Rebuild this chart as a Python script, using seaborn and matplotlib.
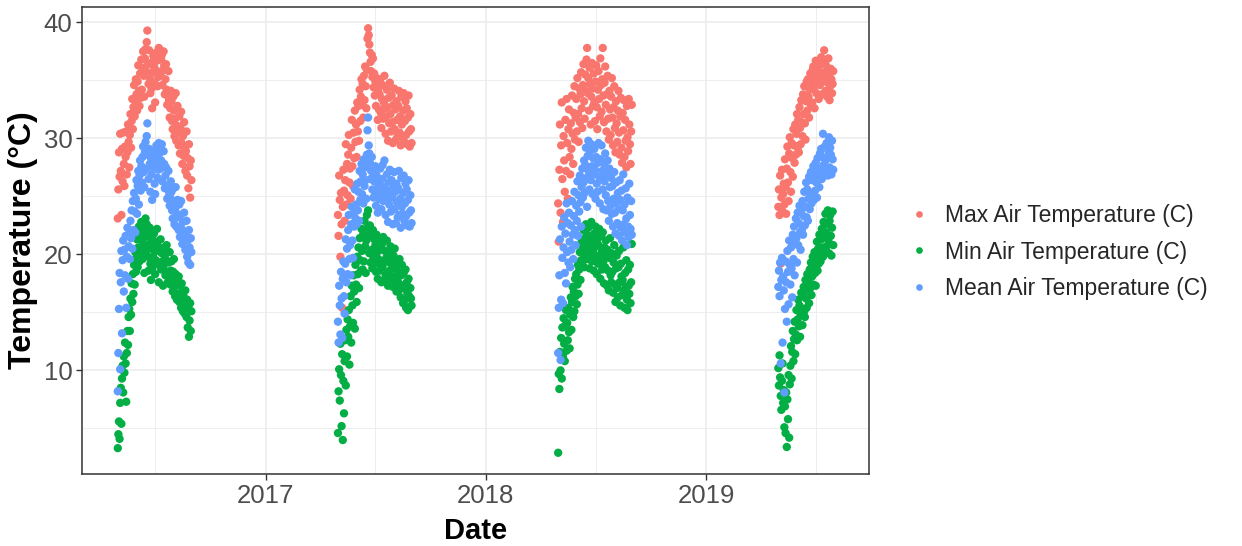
import numpy as np
import pandas as pd
import matplotlib
matplotlib.use("Agg")
import matplotlib.pyplot as plt
import matplotlib.dates as mdates
import seaborn as sns

# ---------------- data (daily values) ----------------
season_starts = ["2016-05-01", "2017-05-01", "2018-05-01", "2019-05-01"]

max_2016 = [23.1, 25.6, 28.8, 26.7, 30.4, 27.2, 23.4, 29.1, 26.3, 30.5,
            27.8, 25.9, 29.3, 28.4, 30.6, 26.9, 28.8, 31.2, 29.7, 27.5,
            30.3, 32.1, 29.2, 31.5, 33.4, 30.8, 32.7, 34.6, 31.9, 33.2,
            35.1, 33.8, 32.4, 34.9, 36.3, 34.1, 32.8, 35.6, 33.5, 36.8,
            34.2, 36.1, 37.5, 35.4, 33.6, 36.9, 37.7, 35.8, 38.3, 39.3,
            36.4, 34.7, 37.6, 35.2, 33.9, 36.5, 34.3, 32.6, 35.7, 37.1,
            36.2, 34.8, 33.1, 35.9, 37.4, 36.7, 34.5, 35.3, 37.8, 36.9,
            37.6, 35.5, 36.8, 37.2, 34.6, 35.9, 37.5, 36.3, 33.8, 35.1,
            36.4, 34.2, 32.9, 33.7, 35.8, 33.3, 31.8, 32.6, 34.1, 33.2,
            31.5, 30.8, 33.6, 32.4, 30.2, 31.7, 33.9, 29.8, 31.1, 32.8,
            30.5, 29.4, 31.9, 28.7, 30.9, 32.3, 29.6, 27.8, 30.2, 28.5,
            31.4, 29.1, 27.2, 28.9, 30.6, 26.8, 28.3, 25.7, 29.5, 27.6,
            24.9, 28.1, 26.4]
max_2017 = [23.4, 21.6, 26.8, 24.7, 19.8, 25.3, 22.6, 15.4, 24.1, 27.3,
            25.5, 22.9, 26.4, 29.5, 24.3, 27.8, 25.1, 28.6, 30.3, 26.2,
            27.4, 24.8, 29.2, 31.6, 27.6, 25.9, 30.5, 28.3, 32.4, 29.7,
            31.2, 28.4, 33.1, 30.6, 32.8, 29.8, 34.2, 31.5, 33.6, 35.1,
            32.9, 34.7, 31.8, 35.4, 33.3, 36.2, 34.5, 32.6, 35.9, 38.6,
            39.5, 38.9, 38.1, 37.4, 36.6, 35.8, 37.2, 35.3, 36.9, 34.4,
            35.6, 33.7, 34.9, 32.8, 35.2, 33.9, 31.6, 34.3, 32.5, 33.8,
            35.1, 32.2, 30.9, 33.4, 34.6, 31.7, 33.1, 35.4, 32.6, 30.4,
            31.9, 34.2, 32.7, 29.8, 33.5, 31.3, 34.8, 32.1, 30.6, 33.7,
            31.4, 29.6, 32.9, 34.3, 30.8, 32.5, 29.9, 33.2, 31.6, 30.2,
            32.8, 34.1, 30.5, 31.9, 29.4, 33.6, 31.2, 30.1, 32.4, 33.9,
            29.7, 31.5, 33.2, 30.3, 32.6, 29.5, 31.8, 33.7, 30.6, 29.3,
            32.1, 30.8, 29.6]
max_2018 = [24.4, 21.1, 27.3, 31.2, 23.6, 29.4, 33.1, 26.5, 22.8, 30.2,
            28.1, 25.4, 31.6, 27.2, 33.4, 29.6, 24.8, 30.8, 32.5, 28.4,
            26.9, 31.3, 29.1, 33.7, 30.4, 27.8, 32.2, 34.5, 29.9, 31.8,
            33.4, 30.6, 35.2, 32.1, 29.7, 34.3, 31.4, 33.8, 35.7, 32.6,
            30.9, 34.6, 36.4, 33.2, 31.7, 35.5, 34.1, 36.8, 37.8, 33.9,
            35.2, 32.4, 36.1, 34.7, 31.2, 33.6, 36.5, 34.3, 32.8, 35.6,
            33.1, 31.5, 34.9, 36.3, 32.7, 30.8, 34.2, 35.8, 33.4, 31.9,
            36.9, 34.6, 32.3, 35.1, 37.8, 33.7, 31.4, 34.8, 36.2, 32.9,
            30.6, 33.8, 35.4, 31.7, 29.9, 34.1, 32.5, 30.3, 33.6, 35.2,
            31.8, 29.4, 32.7, 34.5, 30.9, 28.8, 33.2, 31.3, 29.7, 32.4,
            34.1, 30.5, 28.6, 31.9, 33.5, 29.2, 27.9, 32.2, 30.7, 33.3,
            28.4, 31.6, 29.8, 27.5, 32.8, 30.1, 28.9, 33.4, 31.2, 29.5,
            27.8, 30.6, 32.9]
max_2019 = [24.1, 25.6, 23.4, 26.8, 19.2, 24.9, 27.3, 23.7, 25.2, 26.1,
            24.3, 28.2, 25.8, 23.5, 27.4, 29.3, 26.2, 24.6, 28.7, 30.1,
            27.1, 25.4, 29.6, 28.3, 26.7, 30.8, 29.4, 27.9, 31.2, 28.6,
            30.4, 32.1, 29.2, 31.6, 28.8, 32.7, 30.9, 29.5, 33.3, 31.4,
            30.2, 33.8, 32.1, 34.5, 31.3, 29.9, 33.2, 34.9, 32.4, 35.1,
            33.6, 31.8, 34.2, 35.6, 32.9, 34.8, 33.1, 35.9, 36.2, 34.4,
            32.6, 35.3, 36.7, 33.9, 34.7, 36.1, 35.2, 33.4, 35.8, 34.6,
            36.4, 37.0, 35.5, 33.8, 34.9, 36.6, 37.6, 35.7, 34.1, 36.3,
            35.2, 33.6, 34.8, 36.9, 35.4, 33.3, 34.5, 36.0, 35.1, 33.9,
            34.7, 35.8]

min_2016 = [3.3, 4.5, 5.6, 4.1, 7.2, 8.5, 5.4, 9.3, 10.4, 8.1,
            11.2, 9.8, 12.4, 10.6, 7.3, 11.5, 13.4, 12.2, 14.6, 15.3,
            13.4, 16.2, 14.8, 17.5, 15.9, 18.3, 16.6, 19.1, 17.4, 20.2,
            18.5, 19.7, 21.3, 18.9, 20.6, 22.4, 19.4, 21.7, 20.1, 22.8,
            21.2, 19.6, 22.1, 20.7, 18.4, 21.5, 23.1, 20.3, 22.6, 21.9,
            19.8, 18.6, 20.9, 22.3, 19.2, 17.8, 21.4, 20.5, 18.9, 19.7,
            21.8, 20.2, 18.3, 19.5, 21.1, 22.2, 20.8, 19.3, 17.6, 20.4,
            19.1, 21.3, 18.7, 20.1, 19.4, 17.3, 18.8, 20.6, 19.9, 18.2,
            19.5, 20.8, 18.4, 17.6, 19.3, 18.1, 20.2, 17.4, 18.6, 19.4,
            17.9, 16.8, 18.5, 19.6, 17.2, 16.4, 18.3, 17.7, 16.1, 17.8,
            16.6, 18.1, 15.9, 17.3, 16.2, 15.4, 17.5, 16.8, 15.1, 16.4,
            15.7, 14.9, 16.9, 15.3, 14.6, 16.1, 13.7, 15.5, 12.9, 14.3,
            15.8, 13.4, 15.1]
min_2017 = [4.6, 8.2, 10.1, 7.4, 12.3, 9.6, 5.2, 11.4, 4.0, 9.1,
            6.3, 10.8, 12.6, 8.7, 13.5, 11.2, 14.4, 12.9, 15.2, 10.5,
            13.8, 16.4, 12.4, 17.3, 15.6, 14.1, 18.2, 16.8, 13.6, 19.1,
            17.4, 15.9, 19.8, 18.3, 20.6, 17.1, 21.4, 19.5, 18.6, 22.2,
            20.3, 18.7, 21.8, 19.4, 22.9, 20.7, 18.4, 21.2, 23.4, 22.3,
            23.8, 21.6, 20.1, 22.5, 19.3, 21.9, 20.4, 18.8, 22.1, 19.7,
            21.3, 19.2, 20.8, 18.5, 21.7, 20.2, 17.9, 19.6, 21.1, 18.6,
            20.4, 19.1, 17.6, 20.9, 18.9, 21.5, 19.4, 17.8, 20.3, 18.2,
            19.7, 21.2, 18.4, 17.3, 20.1, 19.3, 18.6, 20.7, 17.9, 19.5,
            18.8, 17.2, 19.9, 18.1, 20.5, 17.6, 18.9, 16.8, 19.3, 17.7,
            18.5, 16.9, 19.6, 17.4, 16.3, 18.2, 19.1, 17.1, 15.8, 18.4,
            17.2, 16.1, 18.7, 15.4, 17.6, 16.7, 15.2, 17.9, 16.4, 15.5,
            17.1, 16.2, 15.6]
min_2018 = [2.9, 9.7, 8.4, 11.6, 10.0, 12.8, 9.3, 13.7, 11.2, 14.5,
            12.3, 10.8, 13.9, 15.2, 11.7, 14.1, 12.6, 15.4, 13.3, 11.9,
            14.8, 16.3, 13.5, 15.9, 17.2, 14.6, 16.8, 15.1, 17.9, 16.4,
            18.3, 15.7, 17.4, 19.1, 16.6, 18.7, 20.2, 17.8, 19.5, 21.1,
            19.3, 20.6, 22.1, 18.9, 21.4, 19.8, 22.6, 20.3, 21.7, 19.6,
            22.3, 20.9, 18.8, 21.5, 20.1, 22.8, 19.4, 21.2, 20.4, 18.6,
            21.8, 19.9, 22.4, 20.7, 18.3, 21.3, 19.2, 20.8, 22.2, 19.6,
            17.9, 21.6, 20.2, 18.7, 21.9, 19.4, 17.5, 20.6, 18.9, 21.2,
            19.8, 17.3, 20.4, 18.6, 16.9, 19.7, 21.4, 18.2, 17.6, 20.1,
            18.5, 16.7, 19.3, 20.8, 17.4, 15.9, 18.8, 19.9, 17.1, 16.3,
            18.9, 20.3, 17.6, 15.6, 19.2, 18.1, 16.5, 17.8, 20.6, 16.9,
            15.4, 18.4, 17.2, 19.5, 16.1, 15.2, 18.7, 17.3, 16.6, 19.1,
            15.8, 17.6, 20.9]
min_2019 = [10.2, 8.7, 11.3, 9.4, 7.8, 6.6, 9.1, 10.6, 7.2, 8.3,
            5.1, 6.9, 4.6, 8.1, 3.4, 7.5, 5.8, 9.6, 4.2, 8.8,
            10.4, 12.1, 9.3, 11.6, 13.4, 10.8, 12.7, 14.2, 11.4, 13.1,
            15.2, 12.6, 14.4, 16.1, 13.8, 15.6, 12.9, 14.8, 16.7, 15.3,
            13.9, 16.4, 17.2, 15.1, 14.6, 17.8, 16.2, 15.4, 18.3, 16.9,
            17.6, 15.8, 18.7, 17.1, 19.3, 16.5, 18.1, 19.8, 17.4, 18.9,
            20.2, 18.4, 17.3, 19.6, 21.1, 18.6, 20.5, 19.2, 21.7, 20.1,
            19.4, 21.3, 22.2, 20.6, 19.8, 22.8, 21.5, 20.3, 23.5, 21.9,
            20.7, 22.6, 23.8, 21.2, 20.1, 22.9, 23.4, 21.6, 19.9, 22.3,
            23.7, 20.8]

mean_2016 = [8.2, 11.5, 15.3, 18.4, 10.1, 17.6, 20.3, 13.2, 19.5, 21.2,
             16.8, 20.4, 18.2, 21.6, 15.4, 19.8, 22.3, 17.9, 20.7, 21.8,
             19.6, 22.9, 21.4, 23.8, 20.5, 24.6, 22.1, 25.3, 23.7, 21.9,
             24.8, 26.4, 23.5, 25.9, 27.2, 24.3, 26.8, 28.1, 25.5, 27.6,
             26.2, 28.4, 29.3, 27.1, 25.8, 28.8, 29.7, 27.4, 30.2, 31.3,
             28.6, 26.5, 29.1, 27.8, 25.4, 28.3, 26.9, 24.7, 27.5, 28.9,
             27.7, 26.1, 25.2, 27.9, 29.4, 28.5, 26.6, 27.3, 29.6, 28.7,
             29.2, 27.4, 28.1, 29.5, 26.3, 27.6, 28.9, 27.8, 25.7, 26.8,
             27.5, 25.9, 24.8, 25.6, 27.2, 25.1, 24.2, 24.9, 26.3, 25.4,
             23.8, 23.1, 25.7, 24.5, 22.6, 23.9, 25.8, 22.4, 23.5, 24.7,
             23.2, 22.1, 24.3, 21.5, 23.4, 24.6, 22.2, 20.9, 22.8, 21.3,
             23.6, 21.8, 20.4, 21.6, 22.9, 19.8, 21.2, 19.3, 22.1, 20.6,
             19.1, 21.4, 20.2]
mean_2017 = [14.2, 12.4, 17.3, 15.6, 13.1, 18.5, 16.2, 12.8, 17.9, 19.4,
             16.4, 14.9, 19.2, 21.3, 17.6, 20.5, 18.3, 22.1, 23.4, 19.6,
             20.8, 18.2, 22.6, 24.1, 21.2, 19.7, 23.5, 22.4, 25.6, 23.1,
             24.3, 22.6, 26.1, 23.8, 25.4, 22.9, 27.2, 24.7, 26.3, 27.8,
             25.2, 26.9, 24.4, 28.2, 25.9, 27.5, 26.4, 24.8, 28.6, 30.7,
             31.8, 29.4, 28.7, 27.9, 26.5, 27.2, 28.4, 25.6, 27.1, 24.9,
             26.3, 25.1, 27.6, 24.2, 26.8, 25.7, 23.6, 26.2, 24.8, 25.9,
             27.4, 25.3, 23.9, 26.5, 27.7, 24.6, 25.8, 28.1, 25.2, 23.4,
             24.7, 26.9, 25.5, 22.8, 26.2, 24.3, 27.3, 25.1, 23.7, 26.4,
             24.9, 22.6, 25.8, 27.1, 23.9, 25.4, 22.7, 26.1, 24.5, 23.2,
             25.7, 27.2, 23.4, 24.8, 22.3, 26.6, 24.1, 23.5, 25.3, 26.8,
             22.9, 24.4, 26.1, 23.3, 25.6, 22.5, 24.7, 26.4, 23.6, 22.4,
             25.1, 23.8, 22.7]
mean_2018 = [11.5, 15.4, 18.2, 21.3, 10.9, 16.1, 22.4, 19.7, 15.8, 20.6,
             23.2, 18.4, 21.8, 17.5, 24.4, 20.2, 22.7, 19.3, 23.6, 21.1,
             18.9, 22.5, 20.4, 24.6, 21.7, 19.6, 23.3, 25.4, 22.1, 20.8,
             24.2, 22.9, 26.3, 21.6, 25.1, 23.7, 26.8, 24.5, 22.4, 25.8,
             27.4, 24.9, 26.2, 28.1, 25.3, 27.7, 29.2, 26.6, 24.1, 28.5,
             29.8, 27.1, 25.6, 28.9, 26.4, 29.5, 27.6, 25.2, 28.3, 26.9,
             29.1, 27.3, 24.8, 28.4, 26.1, 25.4, 27.9, 29.6, 26.7, 24.4,
             28.2, 26.5, 29.4, 27.2, 25.6, 23.9, 27.8, 26.3, 28.7, 25.1,
             23.8, 26.9, 28.1, 24.6, 22.9, 27.4, 25.8, 24.2, 26.6, 23.5,
             25.9, 22.4, 24.8, 27.1, 23.6, 21.8, 26.2, 24.4, 22.7, 25.3,
             23.9, 21.6, 26.4, 24.7, 22.3, 25.5, 21.2, 23.8, 26.9, 22.6,
             24.3, 21.9, 25.7, 23.1, 20.8, 24.9, 22.4, 21.5, 26.1, 23.4,
             22.2, 24.6, 21.7]
mean_2019 = [17.2, 18.6, 16.4, 19.3, 10.6, 17.8, 19.7, 12.4, 18.1, 16.9,
             8.1, 15.3, 19.4, 17.6, 14.2, 20.3, 18.5, 15.7, 21.2, 19.1,
             17.4, 20.6, 18.8, 16.3, 21.7, 19.6, 22.4, 18.2, 20.9, 23.1,
             21.4, 19.3, 23.6, 20.8, 22.7, 24.2, 21.9, 20.4, 23.8, 22.1,
             24.6, 21.7, 23.3, 25.4, 22.5, 24.1, 26.2, 23.2, 25.6, 22.9,
             24.8, 26.7, 23.9, 25.3, 27.1, 24.4, 26.4, 25.1, 27.6, 24.7,
             26.9, 25.5, 27.9, 26.2, 24.9, 28.3, 26.6, 27.4, 25.8, 28.7,
             27.2, 29.1, 26.5, 28.4, 30.4, 27.7, 26.9, 29.3, 28.1, 27.4,
             29.6, 28.3, 26.8, 28.9, 30.1, 27.5, 29.2, 28.6, 26.9, 29.8,
             28.2, 27.3]

series_labels = ["Max Air Temperature (C)", "Min Air Temperature (C)",
                 "Mean Air Temperature (C)"]
series_values = [[max_2016, max_2017, max_2018, max_2019],
                 [min_2016, min_2017, min_2018, min_2019],
                 [mean_2016, mean_2017, mean_2018, mean_2019]]
series_colors = ["#F8766D", "#03AE45", "#619CFF"]
y_major = [10, 20, 30, 40]
y_minor = [5, 15, 25, 35]

# ---------------- long table ----------------
frames = []
for label, seasons in zip(series_labels, series_values):
    for start, vals in zip(season_starts, seasons):
        frames.append(pd.DataFrame({
            "Date": pd.date_range(start, periods=len(vals), freq="D"),
            "Temperature": vals,
            "Series": label,
        }))
df = pd.concat(frames, ignore_index=True)

# ---------------- plot ----------------
sns.set_theme(style="white")
plt.rcParams["font.family"] = ["Liberation Sans", "DejaVu Sans"]

W, H = 1242, 546
fig = plt.figure(figsize=(W / 100, H / 100), dpi=100)
ax = fig.add_axes([82 / W, (H - 474) / H, (869 - 82) / W, (474 - 7) / H])

sns.scatterplot(data=df, x="Date", y="Temperature", hue="Series",
                hue_order=series_labels, palette=series_colors,
                s=36, linewidth=0, alpha=1, ax=ax, legend=True, zorder=3)

# limits with ggplot-like 5% expansion
xmin, xmax = df["Date"].min(), df["Date"].max()
xpad = (xmax - xmin) * 0.05
ax.set_xlim(xmin - xpad, xmax + xpad)
ymin, ymax = df["Temperature"].min(), df["Temperature"].max()
ypad = (ymax - ymin) * 0.05
ax.set_ylim(ymin - ypad, ymax + ypad)

ax.xaxis.set_major_locator(mdates.YearLocator())
ax.xaxis.set_major_formatter(mdates.DateFormatter("%Y"))
ax.xaxis.set_minor_locator(mdates.MonthLocator(bymonth=7, bymonthday=2))
ax.set_yticks(y_major)
ax.set_yticks(y_minor, minor=True)

ax.grid(which="major", color="#EBEBEB", linewidth=1.1, zorder=0)
ax.grid(which="minor", color="#EBEBEB", linewidth=0.6, zorder=0)
ax.set_axisbelow(True)

for sp in ax.spines.values():
    sp.set_color("#333333")
    sp.set_linewidth(1.1)

ax.tick_params(axis="both", which="major", length=4, width=1.0,
               color="#333333", labelcolor="#4D4D4D", labelsize=18.5,
               bottom=True, left=True, pad=3)
ax.tick_params(axis="both", which="minor", length=0)

ax.set_xlabel("Date", fontsize=21, fontweight="bold", color="black",
              labelpad=7)
ax.set_ylabel("Temperature (°C)", fontsize=23, fontweight="bold",
              color="black", labelpad=4)

handles, labels = ax.get_legend_handles_labels()
ax.legend(handles, labels, loc="center left",
          bbox_to_anchor=(885 / W, (H - 252) / H),
          bbox_transform=fig.transFigure, frameon=False, fontsize=16.5,
          markerscale=0.8, handletextpad=0.5, labelspacing=0.59,
          handlelength=1.2)

fig.savefig("out.png", dpi=100)
